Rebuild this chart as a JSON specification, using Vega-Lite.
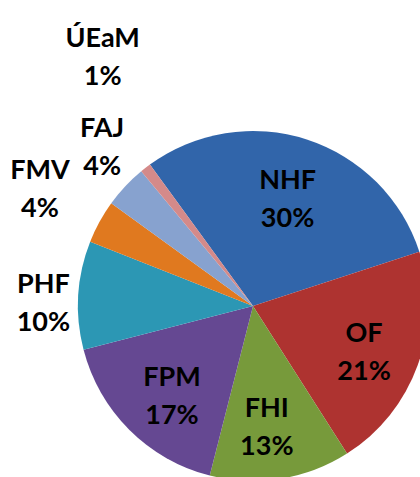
{
  "$schema": "https://vega.github.io/schema/vega-lite/v6.json",
  "autosize": {"type": "none"},
  "padding": {"left": 78, "top": 131, "right": 0, "bottom": 0},
  "width": 350,
  "height": 350,
  "background": "white",
  "view": {"stroke": null},
  "data": {
    "values": [
      {"label": "NHF", "txt": ["NHF", "30%"], "value": 30, "rank": 1},
      {"label": "OF", "txt": ["OF", "21%"], "value": 21, "rank": 2},
      {"label": "FHI", "txt": ["FHI", "13%"], "value": 13, "rank": 3},
      {"label": "FPM", "txt": ["FPM", "17%"], "value": 17, "rank": 4},
      {"label": "PHF", "txt": ["PHF", "10%"], "value": 10, "rank": 5},
      {"label": "FMV", "txt": ["FMV", "4%"], "value": 4, "rank": 6},
      {"label": "FAJ", "txt": ["FAJ", "4%"], "value": 4, "rank": 7},
      {"label": "ÚEaM", "txt": ["ÚEaM", "1%"], "value": 1, "rank": 8}
    ]
  },
  "encoding": {
    "theta": {"field": "value", "type": "quantitative", "stack": true, "scale": {"range": [-0.63, 5.6532]}},
    "order": {"field": "rank", "type": "quantitative"},
    "detail": {"field": "label", "type": "nominal"}
  },
  "layer": [
    {
      "mark": {"type": "arc", "outerRadius": 175, "stroke": null},
      "encoding": {
        "color": {
          "field": "label", "type": "nominal", "legend": null,
          "scale": {
            "domain": ["NHF", "OF", "FHI", "FPM", "PHF", "FMV", "FAJ", "ÚEaM"],
            "range": ["#3165aa", "#ae3330", "#779a3b", "#654892", "#2c97b4", "#e0791f", "#87a2cf", "#d48a8a"]
          }
        }
      }
    },
    {
      "mark": {"type": "text", "radius": 119, "dx": -2, "dy": -12, "font": "Lato", "fontWeight": "bold", "fontSize": 27, "lineHeight": 38, "align": "center", "baseline": "middle", "color": "black"},
      "encoding": {"text": {"field": "txt"}, "opacity": {"condition": {"test": "datum.label === 'NHF'", "value": 1}, "value": 0}}
    },
    {
      "mark": {"type": "text", "radius": 119, "dx": -1, "dy": -12, "font": "Lato", "fontWeight": "bold", "fontSize": 27, "lineHeight": 38, "align": "center", "baseline": "middle", "color": "black"},
      "encoding": {"text": {"field": "txt"}, "opacity": {"condition": {"test": "datum.label === 'OF'", "value": 1}, "value": 0}}
    },
    {
      "mark": {"type": "text", "radius": 119, "dx": -5, "dy": -15, "font": "Lato", "fontWeight": "bold", "fontSize": 27, "lineHeight": 38, "align": "center", "baseline": "middle", "color": "black"},
      "encoding": {"text": {"field": "txt"}, "opacity": {"condition": {"test": "datum.label === 'FHI'", "value": 1}, "value": 0}}
    },
    {
      "mark": {"type": "text", "radius": 119, "dx": 3, "dy": -12, "font": "Lato", "fontWeight": "bold", "fontSize": 27, "lineHeight": 38, "align": "center", "baseline": "middle", "color": "black"},
      "encoding": {"text": {"field": "txt"}, "opacity": {"condition": {"test": "datum.label === 'FPM'", "value": 1}, "value": 0}}
    },
    {
      "mark": {"type": "text", "radius": 210, "dx": 0, "dy": -8, "font": "Lato", "fontWeight": "bold", "fontSize": 27, "lineHeight": 38, "align": "center", "baseline": "middle", "color": "black"},
      "encoding": {"text": {"field": "txt"}, "opacity": {"condition": {"test": "datum.label === 'PHF'", "value": 1}, "value": 0}}
    },
    {
      "mark": {"type": "text", "radius": 244, "dx": 1, "dy": -18, "font": "Lato", "fontWeight": "bold", "fontSize": 27, "lineHeight": 38, "align": "center", "baseline": "middle", "color": "black"},
      "encoding": {"text": {"field": "txt"}, "opacity": {"condition": {"test": "datum.label === 'FMV'", "value": 1}, "value": 0}}
    },
    {
      "mark": {"type": "text", "radius": 219, "dx": 9, "dy": -27, "font": "Lato", "fontWeight": "bold", "fontSize": 27, "lineHeight": 38, "align": "center", "baseline": "middle", "color": "black"},
      "encoding": {"text": {"field": "txt"}, "opacity": {"condition": {"test": "datum.label === 'FAJ'", "value": 1}, "value": 0}}
    },
    {
      "mark": {"type": "text", "radius": 292, "dx": 29, "dy": -37, "font": "Lato", "fontWeight": "bold", "fontSize": 27, "lineHeight": 38, "align": "center", "baseline": "middle", "color": "black"},
      "encoding": {"text": {"field": "txt"}, "opacity": {"condition": {"test": "datum.label === 'ÚEaM'", "value": 1}, "value": 0}}
    }
  ]
}
